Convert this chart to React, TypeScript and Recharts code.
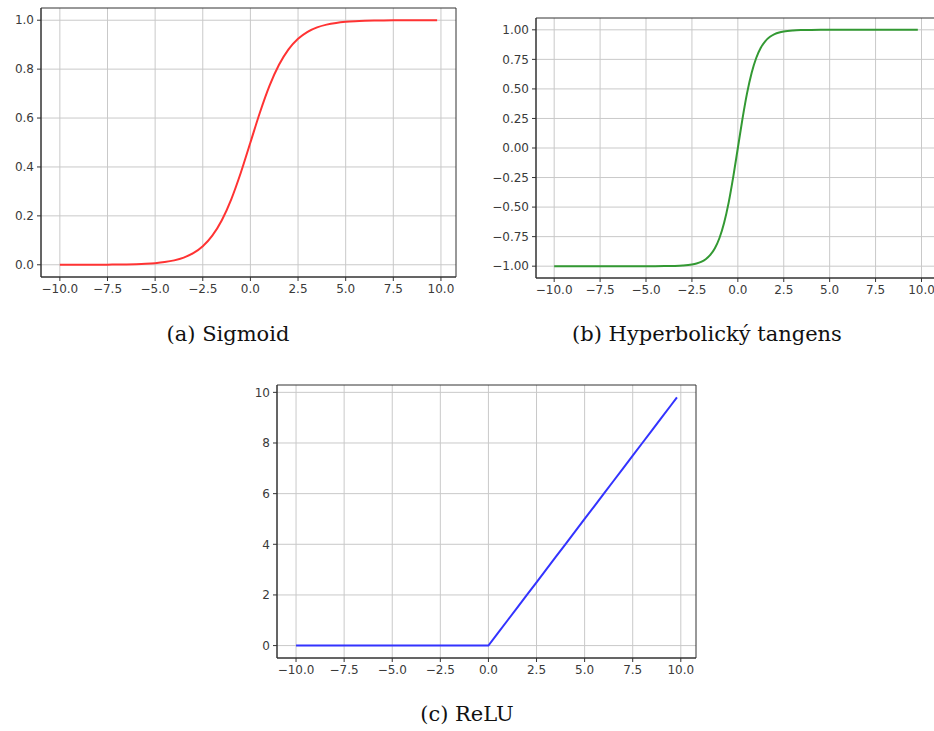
import { CartesianGrid, Line, LineChart, ReferenceArea, XAxis, YAxis } from 'recharts';

// x samples for sigmoid and ReLU
const xs = [
  -10, -9.5, -9, -8.5, -8, -7.5, -7, -6.5, -6, -5.5, -5, -4.5, -4, -3.5, -3, -2.5, -2, -1.5, -1, -0.5,
  0, 0.5, 1, 1.5, 2, 2.5, 3, 3.5, 4, 4.5, 5, 5.5, 6, 6.5, 7, 7.5, 8, 8.5, 9, 9.5, 9.8,
];

const sigmoidValues = [
  0.0, 0.0001, 0.0001, 0.0002, 0.0003, 0.0006, 0.0009, 0.0015, 0.0025, 0.0041, 0.0067, 0.011, 0.018, 0.0293, 0.0474,
  0.0759, 0.1192, 0.1824, 0.2689, 0.3775, 0.5, 0.6225, 0.7311, 0.8176, 0.8808, 0.9241, 0.9526, 0.9707, 0.982, 0.989,
  0.9933, 0.9959, 0.9975, 0.9985, 0.9991, 0.9994, 0.9997, 0.9998, 0.9999, 0.9999, 0.9999,
];

const reluValues = [
  0, 0, 0, 0, 0, 0, 0, 0, 0, 0, 0, 0, 0, 0, 0, 0, 0, 0, 0, 0, 0, 0.5, 1, 1.5, 2, 2.5, 3, 3.5, 4, 4.5, 5, 5.5, 6, 6.5, 7,
  7.5, 8, 8.5, 9, 9.5, 9.8,
];

// tanh is steeper, so it is sampled finer around zero
const tanhXs = [
  -10, -9, -8, -7, -6, -5, -4.5, -4, -3.5, -3, -2.5, -2.25, -2, -1.75, -1.5, -1.25, -1, -0.75, -0.5, -0.25,
  0, 0.25, 0.5, 0.75, 1, 1.25, 1.5, 1.75, 2, 2.25, 2.5, 3, 3.5, 4, 4.5, 5, 6, 7, 8, 9, 9.8,
];

const tanhValues = [
  -1, -1, -1, -1, -1, -0.9999, -0.9998, -0.9993, -0.9982, -0.9951, -0.9866, -0.978, -0.964, -0.9414, -0.9051,
  -0.8483, -0.7616, -0.6351, -0.4621, -0.2449, 0, 0.2449, 0.4621, 0.6351, 0.7616, 0.8483, 0.9051, 0.9414, 0.964,
  0.978, 0.9866, 0.9951, 0.9982, 0.9993, 0.9998, 0.9999, 1, 1, 1, 1, 1,
];

const xTicks = [-10, -7.5, -5, -2.5, 0, 2.5, 5, 7.5, 10];
const sigmoidTicks = [0, 0.2, 0.4, 0.6, 0.8, 1.0];
const tanhTicks = [-1, -0.75, -0.5, -0.25, 0, 0.25, 0.5, 0.75, 1];
const reluTicks = [0, 2, 4, 6, 8, 10];

const captions = ['(a) Sigmoid', '(b) Hyperbolický tangens', '(c) ReLU'];

const xDomain: [number, number] = [-10.99, 10.79];

const fmt = (digits: number) => (v: number) => {
  const s = Math.abs(v).toFixed(digits);
  return v < 0 ? '\u2212' + s : s;
};

const tickStyle = { fontFamily: 'DejaVu Sans', fontSize: 12, fill: '#3a3a3a' };
const gridColor = '#c9c9c9';
const frameColor = '#333';

interface PanelProps {
  xValues: number[];
  values: number[];
  color: string;
  yTicks: number[];
  yDomain: [number, number];
  yDigits: number;
  curve: 'monotone' | 'linear';
  width: number;
  height: number;
  yAxisWidth: number;
  top: number;
  right: number;
  xAxisHeight: number;
}

function Panel(p: PanelProps) {
  const data = p.xValues.map((x, i) => ({ x, y: p.values[i] }));
  return (
    <LineChart width={p.width} height={p.height} data={data} margin={{ top: p.top, right: p.right, left: 0, bottom: 0 }}>
      <CartesianGrid stroke={gridColor} strokeWidth={1} horizontalValues={p.yTicks} verticalValues={xTicks} />
      <XAxis
        dataKey="x"
        type="number"
        domain={xDomain}
        ticks={xTicks}
        tickFormatter={fmt(1)}
        allowDataOverflow
        height={p.xAxisHeight}
        tickSize={4}
        tickMargin={3}
        tick={tickStyle}
        stroke={frameColor}
        tickLine={{ stroke: frameColor }}
      />
      <YAxis
        type="number"
        domain={p.yDomain}
        ticks={p.yTicks}
        tickFormatter={fmt(p.yDigits)}
        allowDataOverflow
        width={p.yAxisWidth}
        tickSize={4}
        tickMargin={3}
        tick={tickStyle}
        stroke={frameColor}
        tickLine={{ stroke: frameColor }}
      />
      <ReferenceArea
        x1={xDomain[0]}
        x2={xDomain[1]}
        y1={p.yDomain[0]}
        y2={p.yDomain[1]}
        fill="none"
        stroke={frameColor}
        strokeWidth={1}
      />
      <Line
        dataKey="y"
        type={p.curve}
        stroke={p.color}
        strokeWidth={2}
        dot={false}
        activeDot={false}
        isAnimationActive={false}
      />
    </LineChart>
  );
}

const captionStyle: React.CSSProperties = {
  position: 'absolute',
  fontFamily: 'DejaVu Serif',
  fontSize: 21,
  color: '#111',
  whiteSpace: 'nowrap',
  transform: 'translateX(-50%)',
};

export default function App() {
  return (
    <div style={{ position: 'fixed', left: 0, top: 0, width: 934, height: 731, overflow: 'hidden', background: '#fff' }}>
      <div style={{ position: 'absolute', left: 0, top: 0 }}>
        <Panel
          xValues={xs}
          values={sigmoidValues}
          color="#ff3333"
          yTicks={sigmoidTicks}
          yDomain={[-0.05, 1.05]}
          yDigits={1}
          curve="monotone"
          width={470}
          height={300}
          yAxisWidth={41}
          top={8}
          right={14}
          xAxisHeight={23}
        />
      </div>
      <div style={{ position: 'absolute', left: 470, top: 0 }}>
        <Panel
          xValues={tanhXs}
          values={tanhValues}
          color="#339933"
          yTicks={tanhTicks}
          yDomain={[-1.1, 1.1]}
          yDigits={2}
          curve="monotone"
          width={480}
          height={300}
          yAxisWidth={66}
          top={18}
          right={14}
          xAxisHeight={22}
        />
      </div>
      <div style={{ position: 'absolute', left: 230, top: 375 }}>
        <Panel
          xValues={xs}
          values={reluValues}
          color="#3333ff"
          yTicks={reluTicks}
          yDomain={[-0.49, 10.29]}
          yDigits={0}
          curve="linear"
          width={480}
          height={310}
          yAxisWidth={47}
          top={10}
          right={14}
          xAxisHeight={27}
        />
      </div>
      <div style={{ ...captionStyle, left: 228, top: 322 }}>{captions[0]}</div>
      <div style={{ ...captionStyle, left: 707, top: 322 }}>{captions[1]}</div>
      <div style={{ ...captionStyle, left: 467, top: 702 }}>{captions[2]}</div>
    </div>
  );
}
